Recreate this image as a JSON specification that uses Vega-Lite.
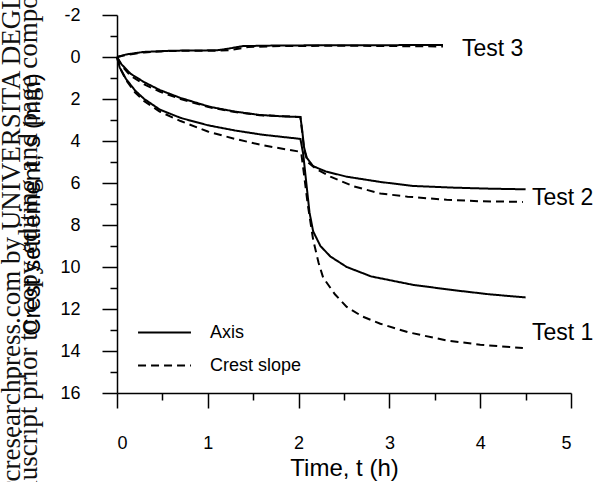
{
  "$schema": "https://vega.github.io/schema/vega-lite/v6.json",
  "width": 454,
  "height": 378,
  "autosize": "none",
  "padding": {"left": 117, "top": 15, "right": 36, "bottom": 89},
  "background": "white",
  "config": {
    "view": {"stroke": null},
    "font": "Liberation Sans",
    "axis": {
      "grid": false,
      "domainColor": "#000",
      "tickColor": "#000",
      "labelColor": "#000",
      "titleColor": "#000",
      "domainWidth": 1.5,
      "tickWidth": 1.5,
      "labelFont": "Liberation Sans",
      "titleFont": "Liberation Sans",
      "titleFontWeight": "normal"
    }
  },
  "datasets": {
    "curves": [
      {"test": "Test 1", "type": "Axis", "t": 0, "s": 0},
      {"test": "Test 1", "type": "Axis", "t": 0.03, "s": 0.5},
      {"test": "Test 1", "type": "Axis", "t": 0.1, "s": 1.05},
      {"test": "Test 1", "type": "Axis", "t": 0.2, "s": 1.6},
      {"test": "Test 1", "type": "Axis", "t": 0.3, "s": 2.0},
      {"test": "Test 1", "type": "Axis", "t": 0.47, "s": 2.5},
      {"test": "Test 1", "type": "Axis", "t": 0.7, "s": 2.9},
      {"test": "Test 1", "type": "Axis", "t": 1.0, "s": 3.25},
      {"test": "Test 1", "type": "Axis", "t": 1.3, "s": 3.5},
      {"test": "Test 1", "type": "Axis", "t": 1.6, "s": 3.7},
      {"test": "Test 1", "type": "Axis", "t": 2.02, "s": 3.9},
      {"test": "Test 1", "type": "Axis", "t": 2.05, "s": 4.6},
      {"test": "Test 1", "type": "Axis", "t": 2.08, "s": 5.8},
      {"test": "Test 1", "type": "Axis", "t": 2.12, "s": 7.4},
      {"test": "Test 1", "type": "Axis", "t": 2.16, "s": 8.3},
      {"test": "Test 1", "type": "Axis", "t": 2.24, "s": 9.0},
      {"test": "Test 1", "type": "Axis", "t": 2.35, "s": 9.5},
      {"test": "Test 1", "type": "Axis", "t": 2.53, "s": 10.0},
      {"test": "Test 1", "type": "Axis", "t": 2.8, "s": 10.45},
      {"test": "Test 1", "type": "Axis", "t": 3.26, "s": 10.85},
      {"test": "Test 1", "type": "Axis", "t": 3.7, "s": 11.1},
      {"test": "Test 1", "type": "Axis", "t": 4.1, "s": 11.3},
      {"test": "Test 1", "type": "Axis", "t": 4.5, "s": 11.45},
      {"test": "Test 1", "type": "Crest slope", "t": 0, "s": 0},
      {"test": "Test 1", "type": "Crest slope", "t": 0.03, "s": 0.5},
      {"test": "Test 1", "type": "Crest slope", "t": 0.1, "s": 1.1},
      {"test": "Test 1", "type": "Crest slope", "t": 0.2, "s": 1.7},
      {"test": "Test 1", "type": "Crest slope", "t": 0.3, "s": 2.1},
      {"test": "Test 1", "type": "Crest slope", "t": 0.47, "s": 2.6},
      {"test": "Test 1", "type": "Crest slope", "t": 0.7, "s": 3.05},
      {"test": "Test 1", "type": "Crest slope", "t": 1.0, "s": 3.55},
      {"test": "Test 1", "type": "Crest slope", "t": 1.3, "s": 3.9},
      {"test": "Test 1", "type": "Crest slope", "t": 1.6, "s": 4.2},
      {"test": "Test 1", "type": "Crest slope", "t": 2.0, "s": 4.5},
      {"test": "Test 1", "type": "Crest slope", "t": 2.03, "s": 4.6},
      {"test": "Test 1", "type": "Crest slope", "t": 2.06, "s": 5.6},
      {"test": "Test 1", "type": "Crest slope", "t": 2.1, "s": 7.0},
      {"test": "Test 1", "type": "Crest slope", "t": 2.16, "s": 8.7},
      {"test": "Test 1", "type": "Crest slope", "t": 2.22, "s": 9.8},
      {"test": "Test 1", "type": "Crest slope", "t": 2.27, "s": 10.5},
      {"test": "Test 1", "type": "Crest slope", "t": 2.4, "s": 11.3},
      {"test": "Test 1", "type": "Crest slope", "t": 2.53, "s": 11.9},
      {"test": "Test 1", "type": "Crest slope", "t": 2.7, "s": 12.35},
      {"test": "Test 1", "type": "Crest slope", "t": 2.9, "s": 12.7},
      {"test": "Test 1", "type": "Crest slope", "t": 3.2, "s": 13.1},
      {"test": "Test 1", "type": "Crest slope", "t": 3.63, "s": 13.5},
      {"test": "Test 1", "type": "Crest slope", "t": 4.0, "s": 13.7},
      {"test": "Test 1", "type": "Crest slope", "t": 4.47, "s": 13.86},
      {"test": "Test 2", "type": "Axis", "t": 0, "s": 0},
      {"test": "Test 2", "type": "Axis", "t": 0.05, "s": 0.35},
      {"test": "Test 2", "type": "Axis", "t": 0.15, "s": 0.8},
      {"test": "Test 2", "type": "Axis", "t": 0.3, "s": 1.2},
      {"test": "Test 2", "type": "Axis", "t": 0.47, "s": 1.57},
      {"test": "Test 2", "type": "Axis", "t": 0.7, "s": 1.95},
      {"test": "Test 2", "type": "Axis", "t": 1.02, "s": 2.37},
      {"test": "Test 2", "type": "Axis", "t": 1.3, "s": 2.6},
      {"test": "Test 2", "type": "Axis", "t": 1.57, "s": 2.76},
      {"test": "Test 2", "type": "Axis", "t": 1.8, "s": 2.82},
      {"test": "Test 2", "type": "Axis", "t": 2.02, "s": 2.86},
      {"test": "Test 2", "type": "Axis", "t": 2.04, "s": 3.5},
      {"test": "Test 2", "type": "Axis", "t": 2.06, "s": 4.3},
      {"test": "Test 2", "type": "Axis", "t": 2.09, "s": 4.8},
      {"test": "Test 2", "type": "Axis", "t": 2.16, "s": 5.2},
      {"test": "Test 2", "type": "Axis", "t": 2.3, "s": 5.45},
      {"test": "Test 2", "type": "Axis", "t": 2.53, "s": 5.7},
      {"test": "Test 2", "type": "Axis", "t": 2.9, "s": 5.95},
      {"test": "Test 2", "type": "Axis", "t": 3.26, "s": 6.14},
      {"test": "Test 2", "type": "Axis", "t": 3.7, "s": 6.22},
      {"test": "Test 2", "type": "Axis", "t": 4.1, "s": 6.27},
      {"test": "Test 2", "type": "Axis", "t": 4.5, "s": 6.3},
      {"test": "Test 2", "type": "Crest slope", "t": 0, "s": 0},
      {"test": "Test 2", "type": "Crest slope", "t": 0.05, "s": 0.4},
      {"test": "Test 2", "type": "Crest slope", "t": 0.15, "s": 0.9},
      {"test": "Test 2", "type": "Crest slope", "t": 0.3, "s": 1.3},
      {"test": "Test 2", "type": "Crest slope", "t": 0.47, "s": 1.65},
      {"test": "Test 2", "type": "Crest slope", "t": 0.7, "s": 2.0},
      {"test": "Test 2", "type": "Crest slope", "t": 1.02, "s": 2.4},
      {"test": "Test 2", "type": "Crest slope", "t": 1.3, "s": 2.62},
      {"test": "Test 2", "type": "Crest slope", "t": 1.57, "s": 2.77},
      {"test": "Test 2", "type": "Crest slope", "t": 2.02, "s": 2.86},
      {"test": "Test 2", "type": "Crest slope", "t": 2.04, "s": 3.6},
      {"test": "Test 2", "type": "Crest slope", "t": 2.06, "s": 4.4},
      {"test": "Test 2", "type": "Crest slope", "t": 2.1, "s": 5.0},
      {"test": "Test 2", "type": "Crest slope", "t": 2.2, "s": 5.35},
      {"test": "Test 2", "type": "Crest slope", "t": 2.35, "s": 5.7},
      {"test": "Test 2", "type": "Crest slope", "t": 2.6, "s": 6.15},
      {"test": "Test 2", "type": "Crest slope", "t": 2.9, "s": 6.5},
      {"test": "Test 2", "type": "Crest slope", "t": 3.2, "s": 6.65},
      {"test": "Test 2", "type": "Crest slope", "t": 3.63, "s": 6.8},
      {"test": "Test 2", "type": "Crest slope", "t": 4.0, "s": 6.87},
      {"test": "Test 2", "type": "Crest slope", "t": 4.47, "s": 6.9},
      {"test": "Test 3", "type": "Axis", "t": 0, "s": 0},
      {"test": "Test 3", "type": "Axis", "t": 0.1, "s": -0.12},
      {"test": "Test 3", "type": "Axis", "t": 0.29, "s": -0.24},
      {"test": "Test 3", "type": "Axis", "t": 0.6, "s": -0.3},
      {"test": "Test 3", "type": "Axis", "t": 1.1, "s": -0.32},
      {"test": "Test 3", "type": "Axis", "t": 1.2, "s": -0.38},
      {"test": "Test 3", "type": "Axis", "t": 1.39, "s": -0.52},
      {"test": "Test 3", "type": "Axis", "t": 1.8, "s": -0.55},
      {"test": "Test 3", "type": "Axis", "t": 2.5, "s": -0.56},
      {"test": "Test 3", "type": "Axis", "t": 3.59, "s": -0.57},
      {"test": "Test 3", "type": "Crest slope", "t": 0, "s": 0},
      {"test": "Test 3", "type": "Crest slope", "t": 0.1, "s": -0.1},
      {"test": "Test 3", "type": "Crest slope", "t": 0.3, "s": -0.22},
      {"test": "Test 3", "type": "Crest slope", "t": 0.6, "s": -0.29},
      {"test": "Test 3", "type": "Crest slope", "t": 1.1, "s": -0.3},
      {"test": "Test 3", "type": "Crest slope", "t": 1.25, "s": -0.33},
      {"test": "Test 3", "type": "Crest slope", "t": 1.45, "s": -0.48},
      {"test": "Test 3", "type": "Crest slope", "t": 1.8, "s": -0.52},
      {"test": "Test 3", "type": "Crest slope", "t": 2.5, "s": -0.54},
      {"test": "Test 3", "type": "Crest slope", "t": 3.59, "s": -0.5}
    ],
    "labels": [
      {"label": "Test 3", "t": 3.8, "s": -0.38},
      {"label": "Test 2", "t": 4.57, "s": 6.71},
      {"label": "Test 1", "t": 4.57, "s": 13.14}
    ],
    "watermark": [
      {"label": "Downloaded from www.nrcresearchpress.com by UNIVERSITA DEGLI STUDI on 11/12/15. For personal use only.", "t": -1.068, "s": 34.02},
      {"label": "accepted manuscript prior to copy editing and page composition. It may differ from the final official version of record.", "t": -0.881, "s": 27.19}
    ]
  },
  "layer": [
    {
      "data": {"name": "watermark"},
      "mark": {"type": "text", "angle": 270, "align": "left", "baseline": "alphabetic", "font": "Liberation Serif", "fontSize": 27, "color": "#111"},
      "encoding": {
        "x": {"field": "t", "type": "quantitative", "scale": {"domain": [0, 5]}, "axis": null},
        "y": {"field": "s", "type": "quantitative", "scale": {"domain": [-2, 16], "reverse": true}, "axis": null},
        "text": {"field": "label"}
      }
    },
    {
      "data": {"name": "curves"},
      "mark": {"type": "line", "color": "black", "strokeWidth": 2},
      "encoding": {
        "x": {"field": "t", "type": "quantitative", "scale": {"domain": [0, 5]},
              "axis": {"values": [0, 1, 2, 3, 4, 5], "tickSize": 15, "labelPadding": 26, "labelFontSize": 18, "title": "Time, t (h)", "titleFontSize": 24, "titlePadding": 4}},
        "y": {"field": "s", "type": "quantitative", "scale": {"domain": [-2, 16], "reverse": true},
              "axis": {"values": [-2, 0, 2, 4, 6, 8, 10, 12, 14, 16], "tickSize": 15, "labelPadding": 22, "labelFontSize": 18, "labelExpr": "replace(datum.label, '\u2212', '-')", "title": "Crest settlement, s (mm)", "titleFontSize": 24, "titlePadding": 15}},
        "detail": {"field": "test"},
        "strokeDash": {"field": "type", "type": "nominal",
          "scale": {"domain": ["Axis", "Crest slope"], "range": [[1, 0], [8, 5]]},
          "legend": {"orient": "none", "legendX": 20, "legendY": 301, "title": null, "symbolType": "stroke", "symbolSize": 2800, "symbolStrokeWidth": 2, "symbolStrokeColor": "black", "labelFontSize": 18, "labelColor": "black", "labelOffset": 18, "clipHeight": 33, "rowPadding": 0}}
      }
    },
    {
      "data": {"name": "labels"},
      "mark": {"type": "text", "align": "left", "baseline": "middle", "fontSize": 23, "color": "black"},
      "encoding": {
        "x": {"field": "t", "type": "quantitative", "scale": {"domain": [0, 5]},
              "axis": {"orient": "bottom", "values": [0.5, 1.5, 2.5, 3.5, 4.5], "tickSize": 7, "labels": false, "domain": false, "title": null}},
        "y": {"field": "s", "type": "quantitative", "scale": {"domain": [-2, 16], "reverse": true},
              "axis": {"orient": "left", "values": [-1, 1, 3, 5, 7, 9, 11, 13, 15], "tickSize": 7, "labels": false, "domain": false, "title": null}},
        "text": {"field": "label"}
      }
    }
  ],
  "resolve": {"axis": {"x": "independent", "y": "independent"}}
}
